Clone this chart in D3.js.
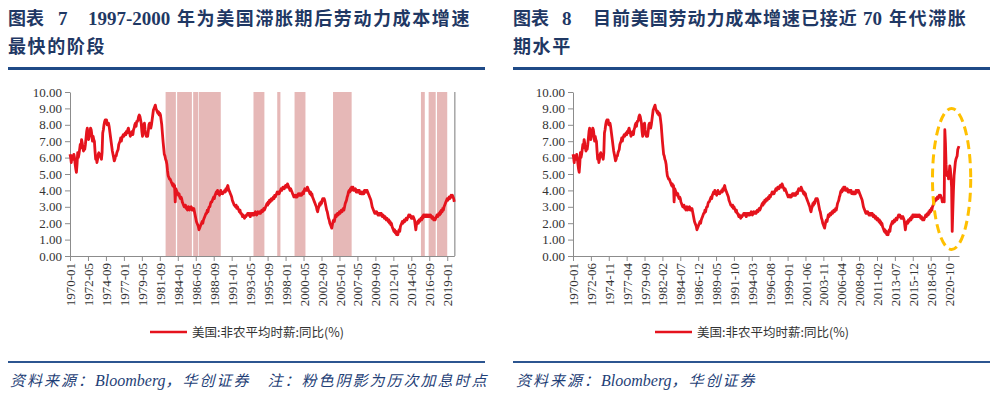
<!DOCTYPE html>
<html>
<head>
<meta charset="utf-8">
<script src="https://cdn.jsdelivr.net/npm/d3@7"></script>
<style>
  body { margin: 0; background: #fff; }
  .title { font-family: "Noto Sans CJK SC", sans-serif; font-weight: 700; font-size: 18px; fill: #1f3864; }
  .title .num { font-family: "Liberation Serif", serif; font-weight: 700; font-size: 19px; }
  .axis text { font-family: "Liberation Serif", serif; font-size: 13px; fill: #333; }
  .axis path, .axis line { stroke: #8c8c8c; }
  .legend { font-family: "Noto Sans CJK SC", sans-serif; font-size: 12.5px; fill: #333; }
  .source { font-family: "Noto Sans CJK SC", sans-serif; font-style: italic; font-size: 15px; fill: #1f3f77; letter-spacing: 2px; }
  .source .latin { font-family: "Liberation Serif", serif; font-size: 16px; letter-spacing: 0; }
</style>
</head>
<body>
<svg id="chart" width="1000" height="396"></svg>
<script>
// monthly YoY of US nonfarm average hourly earnings, starting 1970-01
const startMonth = "1970-01";
const wageYoY = [
  6.2, 6.0, 5.7, 6.1, 6.0, 5.9, 6.2, 6.0, 5.6, 5.3, 5.1, 5.6, // 1970
  6.3, 6.0, 6.2, 6.5, 6.8, 6.6, 7.1, 6.9, 6.6, 6.4, 6.7, 6.5, // 1971
  6.8, 7.2, 7.6, 7.8, 7.4, 7.1, 7.3, 7.5, 7.8, 7.7, 7.4, 7.0, // 1972
  7.3, 7.1, 7.0, 6.4, 5.9, 6.0, 5.7, 5.9, 6.2, 6.3, 6.1, 6.2, // 1973
  6.0, 5.9, 6.3, 7.5, 7.7, 8.0, 8.2, 8.3, 8.1, 8.3, 8.0, 8.1, // 1974
  8.1, 7.9, 7.6, 7.3, 7.0, 6.7, 6.4, 6.2, 6.0, 5.8, 5.9, 6.1, // 1975
  6.1, 6.3, 6.4, 6.5, 6.8, 6.9, 7.0, 7.2, 7.0, 7.2, 7.3, 7.4, // 1976
  7.3, 7.4, 7.5, 7.4, 7.6, 7.5, 7.7, 7.8, 7.6, 7.5, 7.3, 7.4, // 1977
  7.5, 7.6, 7.4, 7.7, 7.8, 8.0, 8.1, 7.9, 8.2, 8.2, 8.3, 8.5, // 1978
  8.6, 8.5, 8.3, 8.1, 7.6, 7.3, 7.6, 8.0, 8.1, 7.7, 7.4, 7.3, // 1979
  7.4, 7.3, 7.6, 8.0, 8.1, 7.9, 7.8, 8.0, 8.3, 8.6, 8.9, 9.0, // 1980
  9.1, 9.2, 9.0, 8.9, 8.8, 8.7, 8.8, 8.6, 8.7, 8.6, 8.3, 8.0, // 1981
  7.5, 7.0, 6.6, 6.2, 6.1, 5.9, 5.8, 5.6, 5.2, 4.9, 4.8, 4.7, // 1982
  4.7, 4.6, 4.5, 4.4, 4.3, 4.4, 4.2, 4.3, 3.3, 4.1, 4.0, 3.9, // 1983
  3.8, 3.7, 3.8, 3.6, 3.5, 3.6, 3.5, 3.3, 3.2, 3.1, 3.0, 3.0, // 1984
  3.1, 2.9, 3.0, 2.8, 2.9, 3.0, 2.8, 2.9, 2.9, 3.0, 2.8, 2.9, // 1985
  2.8, 2.9, 2.7, 2.5, 2.3, 2.1, 2.0, 1.9, 1.8, 1.6, 1.7, 1.8, // 1986
  1.9, 2.0, 2.1, 2.0, 2.2, 2.3, 2.4, 2.5, 2.6, 2.6, 2.8, 2.7, // 1987
  2.9, 3.0, 3.0, 3.2, 3.3, 3.3, 3.4, 3.5, 3.6, 3.5, 3.7, 3.8, // 1988
  3.9, 3.8, 4.0, 3.8, 3.9, 3.7, 3.9, 4.0, 3.8, 3.9, 3.8, 3.9, // 1989
  3.9, 4.0, 3.9, 4.1, 4.0, 4.2, 4.3, 4.1, 4.0, 3.9, 3.8, 3.7, // 1990
  3.6, 3.4, 3.3, 3.2, 3.1, 3.1, 3.0, 3.1, 2.9, 3.0, 2.9, 2.8, // 1991
  2.7, 2.8, 2.6, 2.6, 2.5, 2.4, 2.5, 2.4, 2.3, 2.4, 2.4, 2.5, // 1992
  2.5, 2.6, 2.5, 2.6, 2.5, 2.4, 2.6, 2.5, 2.6, 2.5, 2.6, 2.5, // 1993
  2.6, 2.7, 2.6, 2.5, 2.6, 2.7, 2.6, 2.6, 2.7, 2.6, 2.7, 2.8, // 1994
  2.7, 2.8, 2.9, 2.8, 2.9, 3.0, 3.1, 3.2, 3.1, 3.3, 3.2, 3.4, // 1995
  3.3, 3.4, 3.5, 3.4, 3.5, 3.6, 3.5, 3.7, 3.6, 3.7, 3.8, 3.9, // 1996
  3.8, 3.9, 3.8, 3.9, 4.0, 4.1, 4.0, 4.1, 4.2, 4.2, 4.1, 4.2, // 1997
  4.3, 4.3, 4.2, 4.4, 4.3, 4.2, 4.1, 4.0, 4.1, 4.0, 3.9, 3.8, // 1998
  3.7, 3.6, 3.6, 3.7, 3.6, 3.7, 3.6, 3.7, 3.8, 3.7, 3.8, 3.7, // 1999
  3.8, 3.7, 3.8, 3.9, 3.8, 4.0, 4.1, 4.0, 4.1, 4.0, 4.2, 4.1, // 2000
  4.0, 3.9, 3.8, 3.9, 3.7, 3.8, 3.6, 3.5, 3.4, 3.3, 3.2, 3.1, // 2001
  3.0, 2.8, 2.7, 2.9, 3.0, 3.2, 3.1, 3.3, 3.2, 3.4, 3.5, 3.4, // 2002
  3.5, 3.4, 3.2, 3.0, 2.8, 2.7, 2.5, 2.3, 2.2, 2.0, 1.9, 1.8, // 2003
  1.7, 1.9, 2.1, 2.2, 2.1, 2.3, 2.5, 2.4, 2.5, 2.6, 2.5, 2.6, // 2004
  2.7, 2.6, 2.7, 2.8, 2.7, 2.8, 2.9, 2.8, 3.0, 3.2, 3.3, 3.4, // 2005
  3.6, 3.7, 3.9, 4.0, 3.9, 4.1, 4.0, 4.2, 4.1, 4.2, 4.0, 4.1, // 2006
  4.0, 4.1, 3.9, 4.0, 3.9, 4.0, 3.9, 4.0, 3.8, 3.9, 3.8, 3.9, // 2007
  3.8, 3.9, 3.8, 4.0, 3.9, 4.0, 3.9, 4.0, 3.9, 3.8, 3.7, 3.6, // 2008
  3.5, 3.4, 3.2, 3.0, 2.9, 2.8, 2.7, 2.6, 2.7, 2.6, 2.7, 2.6, // 2009
  2.5, 2.6, 2.5, 2.6, 2.5, 2.6, 2.5, 2.4, 2.5, 2.4, 2.3, 2.4, // 2010
  2.3, 2.2, 2.3, 2.2, 2.1, 2.2, 2.0, 2.1, 1.9, 2.0, 1.8, 1.7, // 2011
  1.6, 1.5, 1.6, 1.4, 1.5, 1.3, 1.4, 1.3, 1.5, 1.6, 1.5, 1.8, // 2012
  1.9, 2.0, 2.1, 2.0, 2.1, 2.2, 2.1, 2.2, 2.3, 2.2, 2.3, 2.4, // 2013
  2.5, 2.4, 2.5, 2.4, 2.3, 2.4, 2.3, 2.4, 2.3, 2.2, 1.9, 1.6, // 2014
  1.9, 2.0, 2.1, 2.0, 2.2, 2.1, 2.2, 2.3, 2.2, 2.4, 2.3, 2.5, // 2015
  2.5, 2.4, 2.5, 2.4, 2.5, 2.4, 2.5, 2.4, 2.5, 2.4, 2.5, 2.4, // 2016
  2.3, 2.4, 2.3, 2.2, 2.3, 2.2, 2.3, 2.4, 2.5, 2.4, 2.5, 2.6, // 2017
  2.5, 2.7, 2.6, 2.8, 2.7, 2.9, 2.8, 3.0, 3.1, 3.2, 3.3, 3.4, // 2018
  3.5, 3.4, 3.5, 3.6, 3.5, 3.6, 3.7, 3.6, 3.7, 3.6, 3.5, 3.3, // 2019
  3.4, 3.5, 3.3, 7.7, 6.9, 5.6, 5.0, 4.9, 5.1, 4.7, 5.0, 5.5, // 2020
  5.3, 4.8, 4.2, 1.5, 2.8, 4.0, 4.9, 5.3, 5.7, 5.9, 6.0, 6.1, // 2021
  6.5, 6.6, 6.7                                               // 2022
];

// left chart stops at 2019-12, right chart runs to the latest month
const leftEnd = "2019-12";

// pink shading: rate hike periods (start, end)
const hikeStarts = ["1982-06", "1983-12", "1986-01", "1986-10", "1993-11", "1996-12", "1999-03", "2004-03", "2015-08", "2016-08", "2017-09"];
const hikeEnds   = ["1983-10", "1985-11", "1986-09", "1989-08", "1995-04", "1997-05", "2000-08", "2006-08", "2016-02", "2017-07", "2019-01"];

const leftTickLabels = ["1970-01", "1972-05", "1974-09", "1977-01", "1979-05", "1981-09", "1984-01", "1986-05",
  "1988-09", "1991-01", "1993-05", "1995-09", "1998-01", "2000-05", "2002-09", "2005-01", "2007-05",
  "2009-09", "2012-01", "2014-05", "2016-09", "2019-01"];
const rightTickLabels = ["1970-01", "1972-06", "1974-11", "1977-04", "1979-09", "1982-02", "1984-07", "1986-12",
  "1989-05", "1991-10", "1994-03", "1996-08", "1999-01", "2001-06", "2003-11", "2006-04", "2008-09",
  "2011-02", "2013-07", "2015-12", "2018-05", "2020-10"];
const yTicks = [0, 1, 2, 3, 4, 5, 6, 7, 8, 9, 10];

const seriesName = "美国:非农平均时薪:同比(%)";

// month index from "YYYY-MM"
const monthIndex = s => {
  const [y, m] = s.split("-").map(Number);
  const [y0, m0] = startMonth.split("-").map(Number);
  return (y - y0) * 12 + (m - m0);
};

const svg = d3.select("#chart");
const lineColor = "#e5131d";

const yScale = d3.scaleLinear().domain([0, 10]).range([256, 92]);

function drawPanel(p) {
  const g = svg.append("g");
  const data = wageYoY.slice(0, p.last + 1);

  const xScale = d3.scaleLinear()
    .domain([0, p.last])
    .range([p.x0, p.x1]);

  // shading
  if (p.shade) {
    g.selectAll("rect.hike")
      .data(hikeStarts.map((s, i) => [monthIndex(s), monthIndex(hikeEnds[i])]))
      .join("rect")
        .attr("class", "hike")
        .attr("x", d => xScale(d[0]))
        .attr("width", d => xScale(d[1]) - xScale(d[0]))
        .attr("y", yScale(10))
        .attr("height", yScale(0) - yScale(10))
        .style("fill", "#e6b8b7");
  }

  // y axis
  g.append("g")
    .attr("class", "axis")
    .attr("transform", `translate(${p.x0}, 0)`)
    .call(d3.axisLeft(yScale)
      .tickValues(yTicks)
      .tickFormat(d3.format(".2f"))
      .tickSize(5)
      .tickSizeOuter(0)
      .tickPadding(3));

  // x axis
  const xAxis = g.append("g")
    .attr("class", "axis")
    .attr("transform", `translate(0, ${yScale(0)})`)
    .call(d3.axisBottom(xScale)
      .tickValues(p.ticks.map(monthIndex))
      .tickFormat((d, i) => p.ticks[i])
      .tickSize(5)
      .tickSizeOuter(0));
  xAxis.selectAll("text")
    .attr("transform", "rotate(-90)")
    .attr("text-anchor", "end")
    .attr("x", -7)
    .attr("y", 0)
    .attr("dy", "0.35em");

  if (p.frame) {
    g.append("line")
      .attr("x1", p.x1 + 0.5).attr("x2", p.x1 + 0.5)
      .attr("y1", yScale(10)).attr("y2", yScale(0))
      .style("stroke", "#a6a6a6")
      .style("stroke-width", 1.5);
  }

  // the series
  g.append("path")
    .datum(data)
    .attr("d", d3.line().x((d, i) => xScale(i)).y(d => yScale(d)))
    .style("fill", "none")
    .style("stroke", lineColor)
    .style("stroke-width", 2.8)
    .style("stroke-linejoin", "round");

  // legend
  g.append("line")
    .attr("x1", p.legendX).attr("x2", p.legendX + 37)
    .attr("y1", 332).attr("y2", 332)
    .style("stroke", lineColor)
    .style("stroke-width", 2.5);
  g.append("text")
    .attr("class", "legend")
    .attr("x", p.legendX + 42)
    .attr("y", 336.5)
    .text(seriesName);

  return xScale;
}

drawPanel({ x0: 70, x1: 454.3, last: monthIndex(leftEnd), ticks: leftTickLabels, shade: true, frame: true, legendX: 150 });
const xRight = drawPanel({ x0: 573, x1: 959, last: wageYoY.length - 1, ticks: rightTickLabels, shade: false, frame: false, legendX: 655 });

// dashed circle around the 2020-2022 swing
svg.append("ellipse")
  .attr("cx", xRight(monthIndex("2021-03")))
  .attr("cy", yScale(4.7))
  .attr("rx", xRight(monthIndex("2021-03")) - xRight(monthIndex("2018-08")))
  .attr("ry", yScale(0.4) - yScale(4.7))
  .style("fill", "none")
  .style("stroke", "#ffc000")
  .style("stroke-width", 3)
  .style("stroke-dasharray", "9,5");

// titles
function title(pieces, y) {
  const t = svg.append("text").attr("class", "title").attr("y", y);
  pieces.forEach(pc => {
    t.append("tspan")
      .attr("x", pc[1])
      .attr("class", pc[2] || null)
      .style("letter-spacing", pc[3] || null)
      .text(pc[0]);
  });
}
title([["图表", 8], ["7", 58, "num"], ["1997-2000", 88, "num"], ["年为美国滞胀期后劳动力成本增速", 177, null, "1.6px"]], 25);
title([["最快的阶段", 8, null, "1.6px"]], 53);
title([["图表", 513], ["8", 562, "num"], ["目前美国劳动力成本增速已接近", 593, null, "0.9px"], ["70", 863, "num"], ["年代滞胀", 889, null, "1.6px"]], 25);
title([["期水平", 513, null, "1.6px"]], 53);

// heading rules
[[8, 485], [513, 990]].forEach(r => {
  svg.append("rect")
    .attr("x", r[0]).attr("y", 67)
    .attr("width", r[1] - r[0]).attr("height", 3)
    .style("fill", "#1f4a87");
  svg.append("rect")
    .attr("x", r[0]).attr("y", 361)
    .attr("width", r[1] - r[0]).attr("height", 2)
    .style("fill", "#2c5590");
});

// sources
const src1 = svg.append("text").attr("class", "source").attr("x", 10).attr("y", 386);
src1.append("tspan").text("资料来源：");
src1.append("tspan").attr("class", "latin").text("Bloomberg");
src1.append("tspan").text("，华创证券　注：粉色阴影为历次加息时点");

const src2 = svg.append("text").attr("class", "source").attr("x", 516).attr("y", 386);
src2.append("tspan").text("资料来源：");
src2.append("tspan").attr("class", "latin").text("Bloomberg");
src2.append("tspan").text("，华创证券");
</script>
</body>
</html>
